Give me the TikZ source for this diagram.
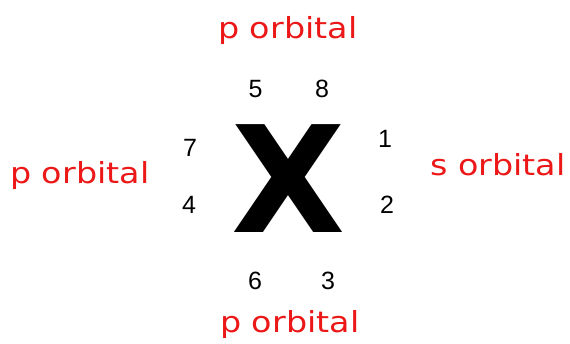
\documentclass[tikz,border=0pt]{standalone}
\usepackage{fontspec}
\setmainfont{Liberation Sans}
\newfontfamily\heavyfont{DejaVu Sans}
\newfontfamily\labelfont{DejaVu Sans}
\definecolor{orbred}{RGB}{236,24,24}
\begin{document}
\begin{tikzpicture}[x=1pt,y=-1pt,
  num/.style={inner sep=0pt,font=\fontsize{25}{25}\selectfont},
  orb/.style={inner sep=0pt,anchor=base west,text=orbred,font=\labelfont\fontsize{29}{29}\selectfont}]
\useasboundingbox[fill=white] (0,0) rectangle (570,343);
\node[inner sep=0pt,font=\heavyfont\bfseries\fontsize{148}{148}\selectfont] (X) at (289,179) {X};
\node[num] (n5) at (255.5,89) {5};
\node[num] (n8) at (322,89) {8};
\node[num] (n7) at (190,148) {7};
\node[num] (n4) at (189,205) {4};
\node[num] (n1) at (385,139) {1};
\node[num] (n2) at (387,205) {2};
\node[num] (n6) at (255,281) {6};
\node[num] (n3) at (328,281) {3};
\node[orb] (ptop) at (218,38) {\scalebox{1.15}[1]{p orbital}};
\node[orb] (pleft) at (10,183) {\scalebox{1.15}[1]{p orbital}};
\node[orb] (sright) at (430,175) {\scalebox{1.15}[1]{s orbital}};
\node[orb] (pbot) at (220,332) {\scalebox{1.15}[1]{p orbital}};
\end{tikzpicture}
\end{document}
